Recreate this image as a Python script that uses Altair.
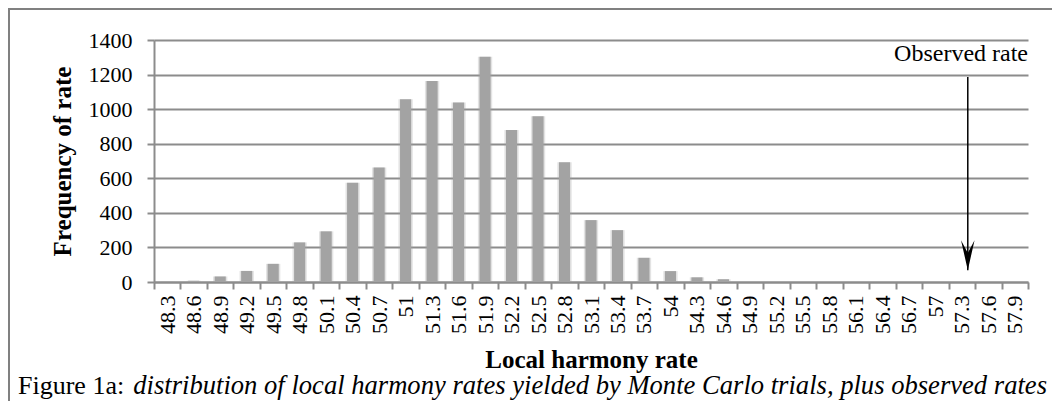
import altair as alt
import pandas as pd

rates = ["48.3", "48.6", "48.9", "49.2", "49.5", "49.8", "50.1", "50.4", "50.7", "51",
         "51.3", "51.6", "51.9", "52.2", "52.5", "52.8", "53.1", "53.4", "53.7", "54",
         "54.3", "54.6", "54.9", "55.2", "55.5", "55.8", "56.1", "56.4", "56.7", "57",
         "57.3", "57.6", "57.9"]
freq = [1, 7, 32, 64, 105, 229, 293, 574, 662, 1057,
        1163, 1039, 1303, 879, 959, 693, 358, 300, 140, 63,
        27, 16, 0, 0, 0, 0, 0, 0, 0, 0,
        0, 0, 0]
y_ticks = [0, 200, 400, 600, 800, 1000, 1200, 1400]

observed_rate = ["57.3"]
arrow_top = [1186]
arrow_tip = [68]

df = pd.DataFrame({"rate": rates, "freq": freq})
arrow_df = pd.DataFrame({"rate": observed_rate, "freq": arrow_tip, "top": arrow_top})

GRAY = "#8c8c8c"
FONT = "Liberation Serif"

xaxis = alt.Axis(title="Local harmony rate", labelAngle=-90, labelFontSize=22,
                 labelFont=FONT, titleFont=FONT,
                 labelPadding=6, labelOverlap=False, tickBand="extent",
                 tickSize=7, tickColor=GRAY, tickWidth=2, domainColor=GRAY,
                 domainWidth=2, grid=False, titleFontSize=25, titleFontWeight="bold",
                 titleY=85, titleBaseline="alphabetic", labelColor="black",
                 titleColor="black")
yaxis = alt.Axis(title="Frequency of rate", values=y_ticks, format="d",
                 labelFont=FONT, titleFont=FONT, labelOverlap=False,
                 labelFontSize=22, labelPadding=15, tickSize=7, tickColor=GRAY,
                 tickWidth=2, domainColor=GRAY, domainWidth=2, grid=True,
                 gridColor=GRAY, gridWidth=2, titleFontSize=25,
                 titleFontWeight="bold", titleX=-92, titleY=121, titleAngle=-90,
                 titleBaseline="middle", titleAlign="center", labelColor="black",
                 titleColor="black")
xscale = alt.Scale(domain=rates, paddingInner=0, paddingOuter=0)
yscale = alt.Scale(domain=[0, 1400], nice=False)

xenc = alt.X("rate:O", sort=rates, scale=xscale, axis=xaxis)
yenc = alt.Y("freq:Q", scale=yscale, axis=yaxis)

glow = alt.Chart(df).mark_bar(width=alt.RelativeBandSize(0.54), color="#a3a3a3",
                              opacity=0.3).encode(x=xenc, y=yenc)
bars = alt.Chart(df).mark_bar(width=alt.RelativeBandSize(0.42), color="#a3a3a3").encode(
    x=xenc, y=yenc)

arrow_line = alt.Chart(arrow_df).mark_rule(color="black", strokeWidth=1.5, xOffset=6).encode(
    x=xenc, y=yenc, y2="top:Q")
head_path = "M0,0 L-0.45,-2 L0,-1.15 L0.45,-2 Z"
arrow_head = alt.Chart(arrow_df).mark_point(shape=head_path, size=900, filled=True,
                                             color="black", opacity=1, strokeWidth=0,
                                             xOffset=6).encode(x=xenc, y=yenc)

obs_text = alt.Chart(arrow_df).mark_text(text="Observed rate", align="right",
                                         baseline="alphabetic", font=FONT, fontSize=24,
                                         color="black").encode(
    x=alt.value(874), y=alt.value(21))

cap1 = alt.Chart(arrow_df).mark_text(text="Figure 1a:", align="left", baseline="alphabetic",
                                     font=FONT, fontSize=26, color="black").encode(
    x=alt.value(-136), y=alt.value(354))
cap2 = alt.Chart(arrow_df).mark_text(
    text="distribution of local harmony rates yielded by Monte Carlo trials, plus observed rates",
    align="right", baseline="alphabetic", font=FONT, fontSize=26.6, fontStyle="italic",
    color="black").encode(x=alt.value(893), y=alt.value(354))

border_top = alt.Chart(arrow_df).mark_rule(color="#808080", strokeWidth=2).encode(
    x=alt.value(-146), x2=alt.value(900), y=alt.value(-31))
border_left = alt.Chart(arrow_df).mark_rule(color="#808080", strokeWidth=2).encode(
    x=alt.value(-145), y=alt.value(-32), y2=alt.value(400))

chart = alt.layer(glow, bars, arrow_line, arrow_head, obs_text, cap1, cap2,
                  border_top, border_left).properties(
    width=874, height=242,
    autosize=alt.AutoSizeParams(type="none"),
    padding={"left": 146, "top": 32, "right": 24, "bottom": 119},
).configure(font=FONT).configure_axis(labelFont=FONT, titleFont=FONT).configure_view(
    stroke=None)

chart.save("out.html", embed_options={"renderer": "svg", "actions": False})
